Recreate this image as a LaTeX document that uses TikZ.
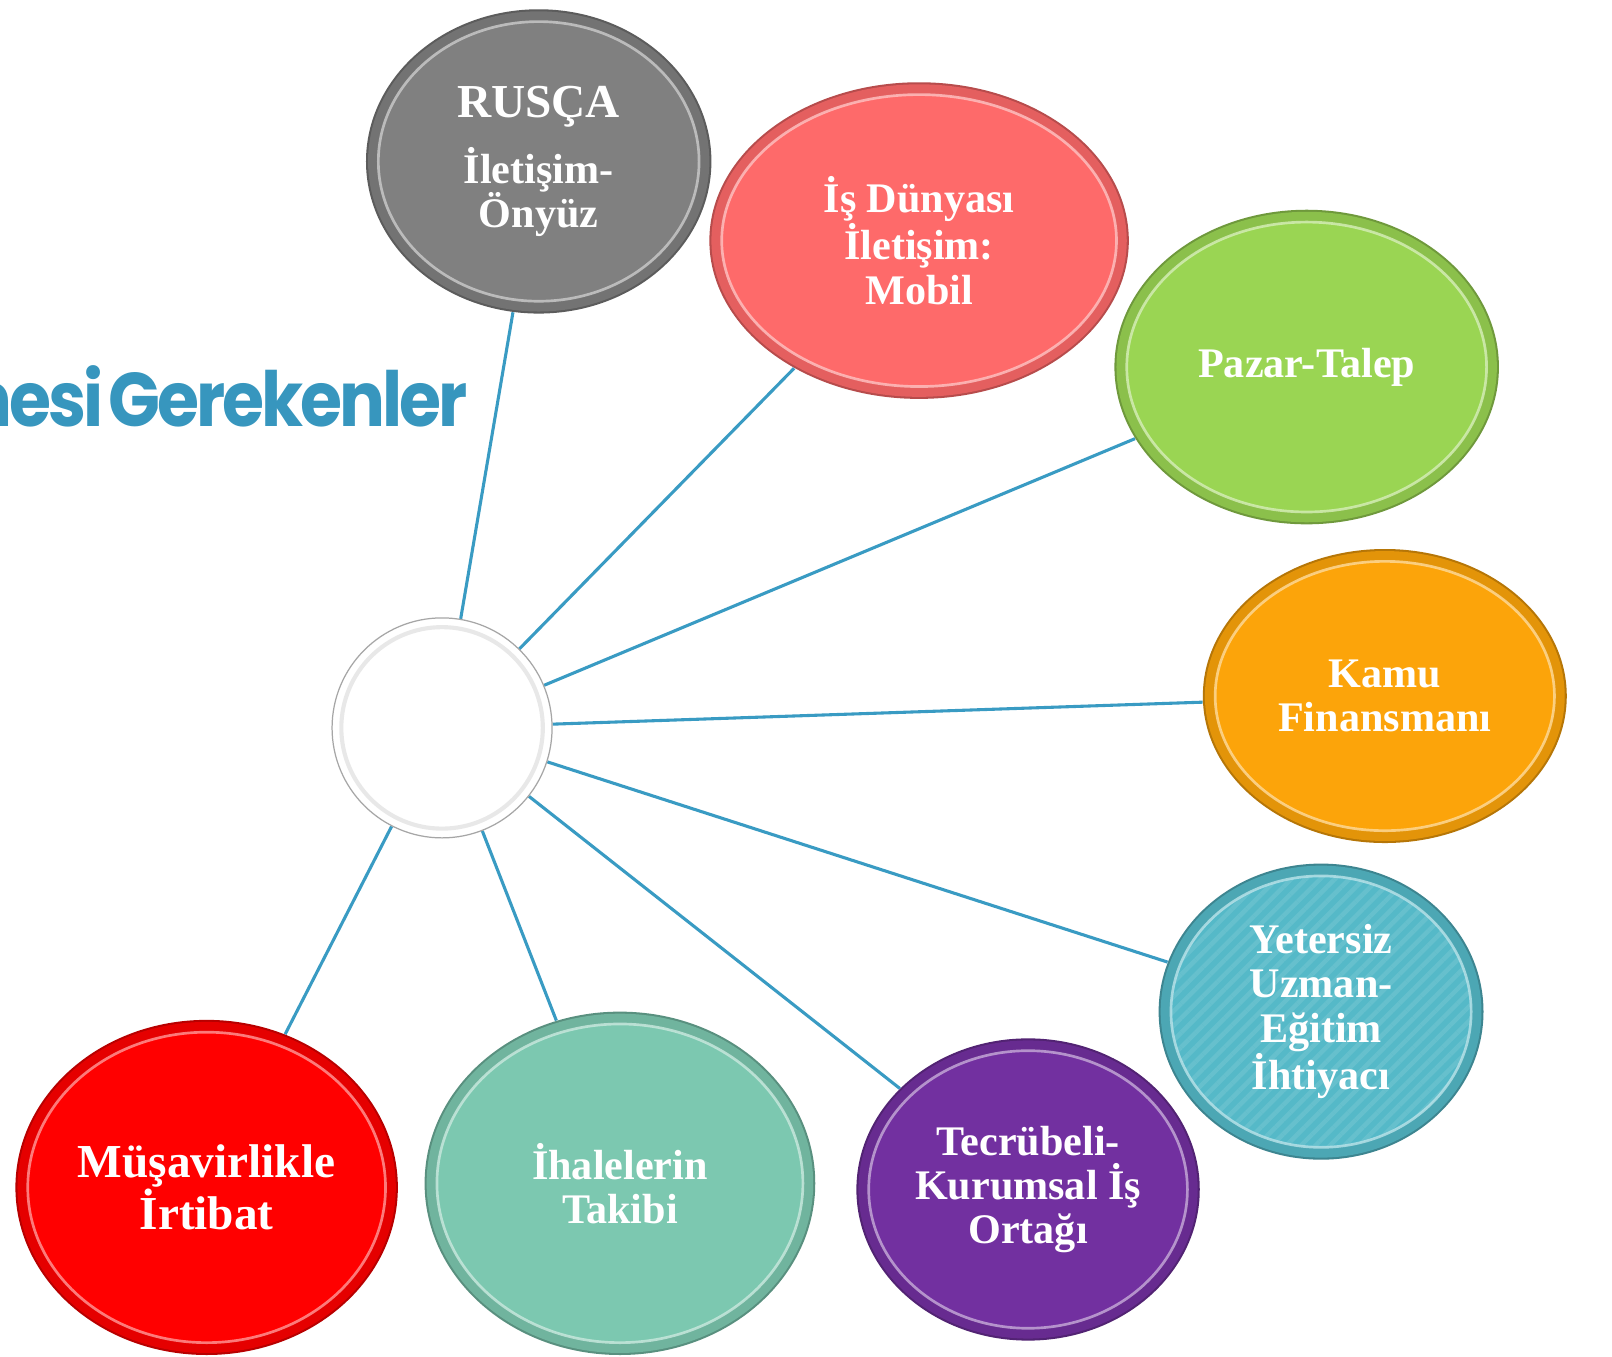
\documentclass[tikz,border=0pt]{standalone}
\usepackage{fontspec}
\setmainfont{Liberation Serif}
\newfontfamily\titlefont[LetterSpace=-4,FakeStretch=0.895]{Poppins}
\usetikzlibrary{shapes.geometric,backgrounds,patterns.meta}
\definecolor{linkblue}{RGB}{57,155,195}
\definecolor{titleblue}{RGB}{55,150,190}
\definecolor{cgray}{RGB}{128,128,128}
\definecolor{cpink}{RGB}{254,106,106}
\definecolor{cgreen}{RGB}{154,213,83}
\definecolor{corange}{RGB}{252,164,10}
\definecolor{ccyan}{RGB}{85,185,200}
\definecolor{cpurple}{RGB}{114,48,160}
\definecolor{cteal}{RGB}{124,200,176}
\definecolor{cred}{RGB}{255,0,0}
\tikzset{
  bubtext/.style={ellipse, inner sep=0pt, text=white, align=center,
    font=\bfseries\fontsize{20.5}{21.5}\selectfont},
  link/.style={draw=linkblue, line width=1.5pt},
}
% #1 name, #2 centre, #3 rx (pt), #4 ry (pt), #5 colour, #6 extra fill options, #7 text
\newcommand\bub[7]{%
  \fill[#5!72!black] (#2) ellipse [x radius={#3pt}, y radius={#4pt}];
  \fill[#5!90!black] (#2) ellipse [x radius={#3pt-1pt}, y radius={#4pt-1pt}];
  \fill[#5] (#2) ellipse [x radius={#3pt-6pt}, y radius={#4pt-6pt}];
  \path[#6] (#2) ellipse [x radius={#3pt-6pt}, y radius={#4pt-6pt}];
  \draw[#5!40!white, line width=1.3pt, opacity=.8] (#2) ellipse [x radius={#3pt-6pt}, y radius={#4pt-6pt}];
  \node[bubtext, minimum width={2*#3pt}, minimum height={2*#4pt}] (#1) at (#2) {#7};
}
\begin{document}
\begin{tikzpicture}[x=0.5pt,y=-0.5pt]
\useasboundingbox (0,0) rectangle (1568,1319);

% title (clipped at the left edge)
\node[anchor=base east, inner sep=0pt, text=titleblue,
  font=\titlefont\bfseries\fontsize{37}{37}\selectfont] (title) at (455,415) {nesi\hspace{2.5pt}Gerekenler};

% centre circle
\node[circle, minimum size=107pt, inner sep=0pt, fill=white, draw=gray!70, line width=0.6pt] (c) at (430,708) {};
\draw[gray!18, line width=2pt] (c.center) circle [radius=49pt];

\bub{rus}{524,157}{84}{74}{cgray}{}{{\fontsize{23}{23}\selectfont RUSÇA}\\[9pt]İletişim-\\Önyüz}
\bub{mob}{894,234}{102}{77}{cpink}{}{İş Dünyası\\İletişim:\\Mobil}
\bub{paz}{1271,357}{93.5}{76.5}{cgreen}{}{Pazar-Talep}
\bub{kam}{1347,677}{88.5}{71.5}{corange}{}{Kamu\\Finansmanı}
\bub{yet}{1285,984}{79}{72}{ccyan}{pattern={Lines[angle=45,distance=5pt,line width=2.2pt]}, pattern color=ccyan!90!white}{Yetersiz\\Uzman-\\Eğitim\\İhtiyacı}
\bub{tec}{1000,1157}{83.5}{73.5}{cpurple}{}{Tecrübeli-\\Kurumsal İş\\Ortağı}
\bub{iha}{603,1151}{95}{83.5}{cteal}{}{İhalelerin\\Takibi}
\bub{mus}{201,1155}{93}{81.5}{cred}{}{{\fontsize{23}{25}\selectfont Müşavirlikle}\\{\fontsize{23}{25}\selectfont İrtibat}}

\begin{scope}[on background layer]
  \fill[white] (0,0) rectangle (1568,1319);
  \foreach \t in {rus,mob,paz,kam,yet,tec,iha,mus}
    \path[link] (c) -- (\t);
\end{scope}
\end{tikzpicture}
\end{document}
